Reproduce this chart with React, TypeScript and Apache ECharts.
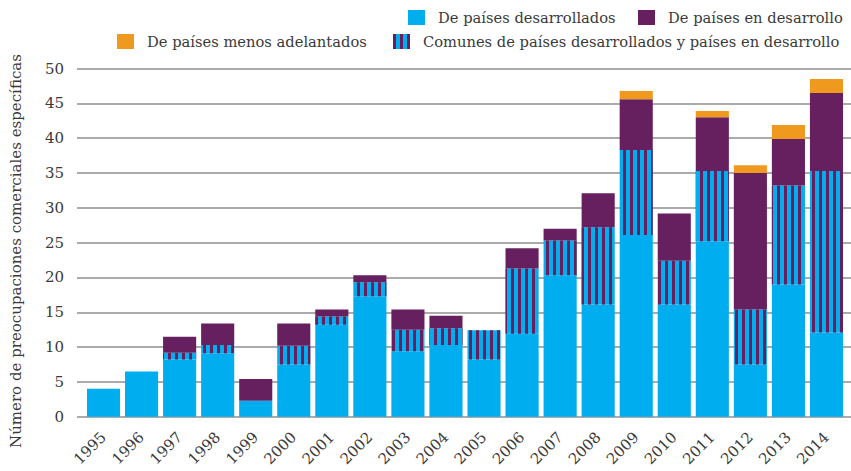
import React, { useEffect, useRef } from "react";
import * as echarts from "echarts";

const years = ["1995", "1996", "1997", "1998", "1999", "2000", "2001", "2002", "2003", "2004", "2005", "2006", "2007", "2008", "2009", "2010", "2011", "2012", "2013", "2014"];
const developed = [4.0, 6.5, 8.2, 9.1, 2.3, 7.5, 13.2, 17.3, 9.4, 10.3, 8.2, 11.9, 20.3, 16.1, 26.1, 16.1, 25.2, 7.5, 19.0, 12.1];
const common = [0, 0, 1.0, 1.2, 0, 2.7, 1.2, 2.0, 3.1, 2.4, 4.2, 9.4, 5.0, 11.1, 12.2, 6.3, 10.1, 7.9, 14.2, 23.2];
const developing = [0, 0, 2.3, 3.1, 3.1, 3.2, 1.0, 1.0, 2.9, 1.8, 0, 2.9, 1.7, 4.9, 7.3, 6.8, 7.7, 19.6, 6.7, 11.2];
const leastDeveloped = [0, 0, 0, 0, 0, 0, 0, 0, 0, 0, 0, 0, 0, 0, 1.2, 0, 0.9, 1.1, 2.0, 2.0];
const yTicks = { min: 0, max: 50, interval: 5 };
const yTitle = "Número de preocupaciones comerciales específicas";

const names = {
  developed: "De países desarrollados",
  developing: "De países en desarrollo",
  ldc: "De países menos adelantados",
  common: "Comunes de países desarrollados y países en desarrollo",
};

const BLUE = "#00ADEE";
const PURPLE = "#66205F";
const ORANGE = "#F0991F";
const TEXT = "#3a3a3a";
const FONT = "DejaVu Serif";

export default function App() {
  const ref = useRef<HTMLDivElement>(null);
  useEffect(() => {
    if (!ref.current) return;
    const chart = echarts.init(ref.current, undefined, { renderer: "svg" });
    const legendText = { fontFamily: FONT, fontSize: 14.7, color: TEXT, padding: [0, 0, 0, 8] };
    const legendBase = {
      orient: "horizontal" as const,
      icon: "rect",
      itemWidth: 17,
      itemHeight: 15,
      itemGap: 12,
      textStyle: legendText,
      padding: 0,
      selectedMode: false,
    };
    chart.setOption({
      animation: false,
      grid: [
        { left: 77, right: 0, top: 68.6, bottom: 54.3 },
        { left: 84.5, width: 761, top: 68.6, bottom: 54.3 },
      ],
      graphic: [
        {
          type: "text",
          x: 16,
          y: 251,
          rotation: Math.PI / 2,
          style: {
            text: yTitle,
            fontFamily: FONT,
            fontSize: 15,
            fill: TEXT,
            align: "center",
            verticalAlign: "middle",
          },
        },
      ],
      legend: [
        { ...legendBase, data: [names.developed], left: 408, top: 10 },
        { ...legendBase, data: [names.developing], left: 638, top: 10 },
        { ...legendBase, data: [names.ldc], left: 117, top: 34 },
        { ...legendBase, data: [names.common], left: 393, top: 34 },
      ],
      xAxis: [
        { type: "category", gridIndex: 0, data: years, show: false },
        {
          type: "category",
          gridIndex: 1,
          data: years,
          axisLine: { show: false },
          axisTick: { show: false },
          axisLabel: {
            rotate: 45,
            margin: 18,
            fontFamily: FONT,
            fontSize: 15,
            color: TEXT,
            interval: 0,
          },
        },
      ],
      yAxis: [
        {
          type: "value",
          gridIndex: 0,
          ...yTicks,
          axisLine: { show: false },
          axisTick: { show: false },
          axisLabel: { margin: 13, fontFamily: FONT, fontSize: 15, color: TEXT },
          splitLine: { lineStyle: { color: "#ababab", width: 2 } },
        },
        { type: "value", gridIndex: 1, ...yTicks, show: false, splitLine: { show: false } },
      ],
      series: [
        {
          name: names.developed,
          type: "bar",
          stack: "total",
          xAxisIndex: 1,
          yAxisIndex: 1,
          barCategoryGap: "13%",
          data: developed,
          itemStyle: { color: BLUE },
        },
        {
          name: names.common,
          type: "bar",
          stack: "total",
          xAxisIndex: 1,
          yAxisIndex: 1,
          barCategoryGap: "13%",
          data: common,
          itemStyle: {
            color: BLUE,
            decal: {
              symbol: "rect",
              symbolSize: 1,
              color: PURPLE,
              dashArrayX: [3, 4],
              dashArrayY: [10, 0],
              rotation: 0,
            },
          },
        },
        {
          name: names.developing,
          type: "bar",
          stack: "total",
          xAxisIndex: 1,
          yAxisIndex: 1,
          barCategoryGap: "13%",
          data: developing,
          itemStyle: { color: PURPLE },
        },
        {
          name: names.ldc,
          type: "bar",
          stack: "total",
          xAxisIndex: 1,
          yAxisIndex: 1,
          barCategoryGap: "13%",
          data: leastDeveloped,
          itemStyle: { color: ORANGE },
        },
      ],
    });
    return () => chart.dispose();
  }, []);
  return <div ref={ref} style={{ width: 851, height: 471, position: "absolute", left: 0, top: 0 }} />;
}
